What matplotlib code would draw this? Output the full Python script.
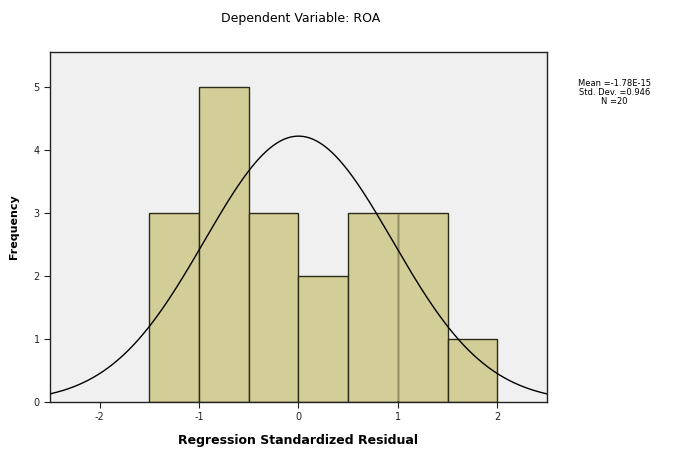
import numpy as np
import matplotlib
matplotlib.use("Agg")
import matplotlib.pyplot as plt

# histogram of standardized residuals
bin_edges = [-1.5, -1.0, -0.5, 0.0, 0.5, 1.0, 1.5, 2.0]
counts = [3, 5, 3, 2, 3, 3, 1]
mean = 0.0
std_dev = 0.946
n = 20
stats_text = "Mean =-1.78E-15\nStd. Dev. =0.946\nN =20"

plt.rcParams["axes.unicode_minus"] = False

fig = plt.figure(figsize=(6.84, 4.61), dpi=100)
ax = fig.add_axes([0.0731, 0.128, 0.7266, 0.759])
ax.set_facecolor("#f0f0f0")

lefts = bin_edges[:-1]
widths = np.diff(bin_edges)
ax.bar(lefts, counts, width=widths, align="edge", color="#d3ce97",
       edgecolor="#2b2b1a", linewidth=1.0)

# SPSS draws the border between two equal bars faintly
for i in range(len(counts) - 1):
    if counts[i] == counts[i + 1]:
        ax.vlines(bin_edges[i + 1], 0.02, counts[i] - 0.02, color="#b5b083", linewidth=1.1)

# normal curve scaled to the histogram
xs = np.linspace(-2.5, 2.5, 300)
ys = n * widths[0] / (std_dev * np.sqrt(2 * np.pi)) * np.exp(-0.5 * ((xs - mean) / std_dev) ** 2)
ax.plot(xs, ys, color="black", linewidth=1.0, zorder=3)

ax.set_xlim(-2.5, 2.5)
ax.set_ylim(0, 5.55)
ax.set_xticks([-2, -1, 0, 1, 2])
ax.set_yticks([0, 1, 2, 3, 4, 5])
ax.tick_params(labelsize=7, length=4, width=0.8, colors="#222222")
for s in ax.spines.values():
    s.set_color("#222222")
    s.set_linewidth(1.0)

ax.set_xlabel("Regression Standardized Residual", fontsize=9, fontweight="bold", labelpad=8)
ax.set_ylabel("Frequency", fontsize=8, fontweight="bold", labelpad=10)
fig.text(0.44, 0.96, "Dependent Variable: ROA", ha="center", va="center", fontsize=9)
fig.text(0.898, 0.80, stats_text, ha="center", va="center", fontsize=6, linespacing=1.0)

fig.savefig("out.png", dpi=100)
